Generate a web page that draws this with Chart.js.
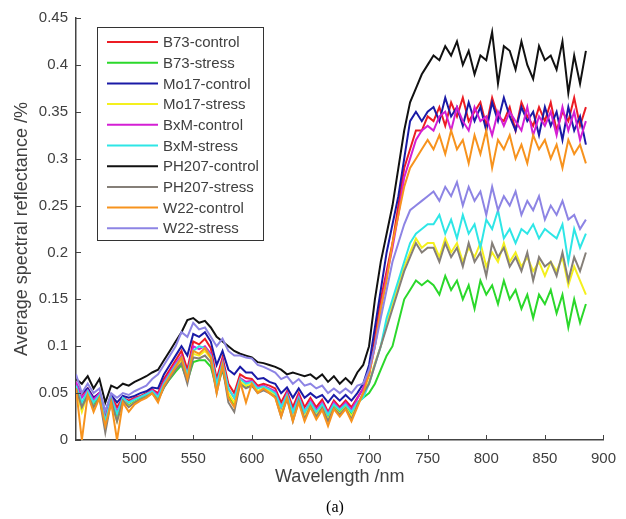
<!DOCTYPE html>
<html>
<head>
<meta charset="utf-8">
<script src="https://cdn.jsdelivr.net/npm/chart.js@4.4.0/dist/chart.umd.min.js"></script>
<style>
  html, body { margin: 0; padding: 0; background: #fff; }
</style>
</head>
<body>
<canvas id="spectra" width="626" height="519"></canvas>
<script>
// wavelength grid (nm)
const wavelengths = [
  450,455,460,465,470,475,480,485,490,495,500,505,510,515,520,525,530,535,540,545,
  550,555,560,565,570,575,580,585,590,595,600,605,610,615,620,625,630,635,640,645,
  650,655,660,665,670,675,680,685,690,695,700,705,710,715,720,725,730,735,740,745,
  750,755,760,765,770,775,780,785,790,795,800,805,810,815,820,825,830,835,840,845,
  850,855,860,865,870,875,880,885
];

const b73Control = [
  0.06,0.048,0.055,0.045,0.05,0.025,0.047,0.035,0.045,0.042, 0.045,0.047,0.05,0.054,0.05,0.065,0.075,0.085,0.095,0.075,
  0.105,0.102,0.108,0.098,0.065,0.088,0.06,0.05,0.07,0.066, 0.065,0.058,0.06,0.058,0.055,0.04,0.052,0.035,0.05,0.035,
  0.045,0.035,0.043,0.03,0.042,0.035,0.042,0.035,0.045,
  0.055,0.07,0.11,0.15,0.18,0.21,0.25,0.29,0.31,0.33,0.33,0.345,
  0.34,0.355,0.335,0.36,0.345,0.365,0.34,0.35,0.36,0.335, 0.365,0.345,0.34,0.355,0.33,0.36,0.345,0.335,0.355,0.34,
  0.36,0.33,0.35,0.34,0.365,0.335,0.355
];
const b73Stress = [
  0.055,0.035,0.05,0.038,0.046,0.02,0.043,0.025,0.042,0.037, 0.041,0.044,0.047,0.05,0.044,0.056,0.065,0.073,0.08,0.063,
  0.083,0.085,0.085,0.078,0.055,0.075,0.048,0.038,0.06,0.056, 0.058,0.052,0.054,0.051,0.048,0.03,0.045,0.025,0.043,0.025,
  0.038,0.028,0.036,0.024,0.036,0.03,0.036,0.028,0.04,
  0.045,0.05,0.06,0.075,0.09,0.10,0.125,0.15,0.16,0.17,0.165,0.17,
  0.165,0.155,0.175,0.16,0.17,0.15,0.165,0.14,0.17,0.155, 0.165,0.145,0.17,0.15,0.16,0.14,0.155,0.13,0.155,0.145,
  0.16,0.135,0.155,0.12,0.15,0.125,0.145
];
const mo17Control = [
  0.06,0.05,0.055,0.045,0.05,0.03,0.048,0.04,0.047,0.045, 0.047,0.05,0.052,0.056,0.055,0.07,0.08,0.09,0.1,0.09,
  0.113,0.11,0.115,0.105,0.08,0.095,0.075,0.07,0.078,0.072, 0.072,0.065,0.066,0.062,0.06,0.05,0.056,0.045,0.055,0.045,
  0.05,0.045,0.048,0.04,0.048,0.042,0.048,0.042,0.05,
  0.06,0.08,0.12,0.16,0.20,0.23,0.26,0.30,0.34,0.35,0.34,0.35,
  0.355,0.34,0.365,0.345,0.355,0.335,0.36,0.34,0.355,0.33, 0.36,0.34,0.365,0.345,0.33,0.355,0.34,0.35,0.325,0.355,
  0.335,0.35,0.32,0.355,0.33,0.345,0.315
];
const mo17Stress = [
  0.055,0.03,0.05,0.035,0.045,0.015,0.04,0.02,0.042,0.036, 0.04,0.043,0.046,0.05,0.043,0.058,0.068,0.078,0.085,0.065,
  0.092,0.09,0.095,0.087,0.055,0.08,0.05,0.04,0.062,0.058, 0.06,0.052,0.055,0.052,0.048,0.03,0.045,0.025,0.043,0.025,
  0.037,0.027,0.035,0.022,0.035,0.028,0.035,0.025,0.038,
  0.05,0.062,0.082,0.10,0.125,0.145,0.165,0.185,0.20,0.215,0.205,0.21,
  0.21,0.195,0.215,0.2,0.21,0.19,0.205,0.195,0.21,0.185, 0.2,0.19,0.21,0.19,0.2,0.185,0.195,0.18,0.19,0.175,
  0.19,0.18,0.195,0.165,0.185,0.17,0.155
];
const bxmControl = [
  0.062,0.045,0.053,0.043,0.05,0.02,0.046,0.03,0.045,0.04, 0.044,0.046,0.049,0.053,0.048,0.062,0.072,0.082,0.09,0.07,
  0.1,0.097,0.1,0.092,0.06,0.084,0.055,0.045,0.066,0.062, 0.063,0.056,0.058,0.055,0.052,0.035,0.05,0.03,0.047,0.03,
  0.042,0.032,0.04,0.028,0.04,0.033,0.04,0.032,0.044,
  0.055,0.07,0.10,0.14,0.175,0.205,0.24,0.28,0.30,0.32,0.33,0.335,
  0.33,0.345,0.35,0.33,0.355,0.34,0.33,0.355,0.34,0.345, 0.325,0.35,0.335,0.35,0.34,0.33,0.355,0.325,0.345,0.335,
  0.35,0.325,0.355,0.33,0.35,0.32,0.34
];
const bxmStress = [
  0.058,0.04,0.052,0.04,0.048,0.02,0.045,0.028,0.045,0.04, 0.043,0.046,0.049,0.052,0.046,0.06,0.07,0.08,0.088,0.07,
  0.095,0.1,0.098,0.09,0.06,0.082,0.055,0.045,0.065,0.06, 0.062,0.055,0.057,0.054,0.05,0.035,0.048,0.03,0.045,0.03,
  0.04,0.03,0.038,0.027,0.038,0.032,0.038,0.03,0.04,
  0.045,0.06,0.08,0.10,0.13,0.15,0.17,0.19,0.21,0.22,0.225,0.23,
  0.23,0.24,0.22,0.235,0.215,0.24,0.22,0.23,0.205,0.235, 0.225,0.245,0.215,0.225,0.21,0.225,0.22,0.23,0.215,0.225,
  0.22,0.215,0.23,0.19,0.225,0.205,0.22
];
const ph207Control = [
  0.065,0.06,0.068,0.055,0.065,0.04,0.058,0.055,0.06,0.058, 0.062,0.065,0.068,0.072,0.075,0.085,0.095,0.105,0.115,0.128,
  0.13,0.125,0.127,0.12,0.11,0.105,0.1,0.095,0.092,0.09, 0.088,0.083,0.082,0.08,0.078,0.075,0.07,0.072,0.07,0.068,
  0.07,0.065,0.07,0.062,0.068,0.06,0.066,0.06,0.072,
  0.08,0.10,0.15,0.19,0.22,0.25,0.29,0.33,0.36,0.375,0.39,0.40,
  0.41,0.405,0.42,0.41,0.425,0.40,0.415,0.39,0.41,0.405, 0.435,0.38,0.42,0.415,0.395,0.425,0.40,0.385,0.42,0.405,
  0.41,0.395,0.425,0.37,0.41,0.38,0.415
];
const ph207Stress = [
  0.055,0.035,0.048,0.035,0.045,0.008,0.042,0.02,0.042,0.035, 0.04,0.043,0.046,0.05,0.042,0.056,0.066,0.075,0.082,0.06,
  0.088,0.087,0.09,0.083,0.05,0.078,0.04,0.03,0.06,0.055, 0.058,0.05,0.053,0.05,0.046,0.025,0.044,0.02,0.042,0.022,
  0.036,0.025,0.034,0.02,0.034,0.027,0.034,0.022,0.037,
  0.05,0.06,0.08,0.10,0.12,0.14,0.16,0.18,0.195,0.21,0.20,0.205,
  0.205,0.19,0.21,0.195,0.205,0.185,0.21,0.19,0.2,0.175, 0.21,0.195,0.205,0.185,0.195,0.18,0.2,0.17,0.195,0.185,
  0.19,0.175,0.2,0.17,0.195,0.18,0.2
];
const w22Control = [
  0.055,0.0,0.048,0.03,0.045,0.015,0.04,0.0,0.04,0.03, 0.038,0.042,0.045,0.05,0.04,0.058,0.068,0.078,0.088,0.065,
  0.095,0.092,0.098,0.088,0.05,0.08,0.045,0.035,0.062,0.04, 0.06,0.05,0.055,0.05,0.045,0.025,0.045,0.02,0.04,0.02,
  0.035,0.022,0.032,0.015,0.033,0.025,0.033,0.02,0.035,
  0.05,0.07,0.10,0.14,0.17,0.21,0.24,0.27,0.29,0.30,0.31,0.32,
  0.31,0.325,0.305,0.33,0.31,0.32,0.295,0.325,0.305,0.33, 0.29,0.32,0.31,0.325,0.3,0.315,0.295,0.325,0.31,0.32,
  0.3,0.315,0.29,0.32,0.305,0.315,0.295
];
const w22Stress = [
  0.07,0.05,0.06,0.05,0.055,0.03,0.05,0.045,0.05,0.048, 0.052,0.055,0.058,0.065,0.07,0.08,0.09,0.1,0.115,0.11,
  0.125,0.118,0.12,0.11,0.1,0.108,0.095,0.09,0.09,0.088, 0.087,0.08,0.078,0.075,0.072,0.065,0.068,0.06,0.065,0.058,
  0.06,0.055,0.058,0.05,0.055,0.05,0.055,0.05,0.058,
  0.06,0.075,0.10,0.13,0.16,0.19,0.21,0.23,0.245,0.25,0.255,0.26,
  0.265,0.255,0.27,0.26,0.275,0.25,0.27,0.255,0.265,0.24, 0.27,0.245,0.26,0.25,0.265,0.24,0.255,0.245,0.26,0.235,
  0.25,0.24,0.255,0.235,0.24,0.225,0.235
];

const seriesNames = ['B73-control','B73-stress','Mo17-control','Mo17-stress','BxM-control',
                     'BxM-stress','PH207-control','PH207-stress','W22-control','W22-stress'];
const seriesValues = [b73Control, b73Stress, mo17Control, mo17Stress, bxmControl,
                      bxmStress, ph207Control, ph207Stress, w22Control, w22Stress];
const seriesColors = ['#ec1c24','#2bd82b','#1a1aa6','#f4f01e','#d41fd4',
                      '#2ee6e6','#111111','#857f78','#f7931e','#8d84e4'];
const xTicks = [500, 550, 600, 650, 700, 750, 800, 850, 900];

const textColor = '#404040';
const sans = "'Liberation Sans', Arial, sans-serif";

// MATLAB-style inward ticks, legend box inside the axes and the "(a)" caption
const decorations = {
    id: 'decorations',
    afterDraw(chart) {
        const ctx = chart.ctx;
        const area = chart.chartArea;
        const xs = chart.scales.x, ys = chart.scales.y;
        ctx.save();
        ctx.strokeStyle = '#444';
        ctx.lineWidth = 1;
        xs.ticks.forEach(t => {
            const px = Math.round(xs.getPixelForValue(t.value)) + 0.5;
            ctx.beginPath(); ctx.moveTo(px, area.bottom); ctx.lineTo(px, area.bottom - 5); ctx.stroke();
        });
        ys.ticks.forEach(t => {
            const py = Math.round(ys.getPixelForValue(t.value)) + 0.5;
            ctx.beginPath(); ctx.moveTo(area.left, py); ctx.lineTo(area.left + 5, py); ctx.stroke();
        });

        // legend
        const bx = area.left + 21, by = area.top + 9, bw = 166, bh = 213;
        ctx.fillStyle = '#fff';
        ctx.fillRect(bx, by, bw, bh);
        ctx.strokeStyle = '#333';
        ctx.lineWidth = 1;
        ctx.strokeRect(bx + 0.5, by + 0.5, bw, bh);
        ctx.font = '15px ' + sans;
        ctx.textBaseline = 'middle';
        ctx.textAlign = 'left';
        seriesNames.forEach((name, i) => {
            const y = by + 15 + i * 20.7;
            ctx.strokeStyle = seriesColors[i];
            ctx.lineWidth = 2;
            ctx.beginPath(); ctx.moveTo(bx + 10, y); ctx.lineTo(bx + 61, y); ctx.stroke();
            ctx.fillStyle = textColor;
            ctx.fillText(name, bx + 66, y + 1);
        });

        ctx.fillStyle = '#000';
        ctx.textAlign = 'center';
        ctx.font = "16px 'Liberation Serif', 'Times New Roman', serif";
        ctx.fillText('(a)', 335, 508);
        ctx.restore();
    }
};

const datasets = seriesNames.map((name, i) => ({
    label: name,
    data: wavelengths.map((w, j) => ({ x: w, y: seriesValues[i][j] })),
    borderColor: seriesColors[i],
    backgroundColor: seriesColors[i],
    borderWidth: 2,
    pointRadius: 0,
    tension: 0,
    fill: false,
    order: seriesNames.length - i
}));

new Chart(document.getElementById('spectra').getContext('2d'), {
    type: 'line',
    data: { datasets: datasets },
    options: {
        responsive: false,
        animation: false,
        layout: { padding: { left: 0, right: 15, top: 18, bottom: 29 } },
        plugins: { legend: { display: false }, tooltip: { enabled: false } },
        scales: {
            x: {
                type: 'linear',
                min: 450,
                max: 900,
                afterBuildTicks: s => { s.ticks = xTicks.map(v => ({ value: v })); },
                afterFit: s => { s.height = 50; },
                grid: { display: false, drawTicks: false },
                border: { display: true, color: '#444', width: 1.5 },
                ticks: { color: textColor, padding: 10, font: { family: sans, size: 15 } },
                title: { display: true, text: 'Wavelength /nm', color: textColor,
                         padding: { top: 0, bottom: 2 }, font: { family: sans, size: 18 } }
            },
            y: {
                min: 0,
                max: 0.45,
                ticks: { stepSize: 0.05, color: textColor, padding: 8, font: { family: sans, size: 15 },
                         callback: v => String(Math.round(v * 100) / 100) },
                afterFit: s => { s.width = 76; },
                grid: { display: false, drawTicks: false },
                border: { display: true, color: '#444', width: 1.5 },
                title: { display: true, text: 'Average spectral reflectance /%', color: textColor,
                         padding: { top: 11, bottom: 0 }, font: { family: sans, size: 18 } }
            }
        }
    },
    plugins: [decorations]
});
</script>
</body>
</html>
